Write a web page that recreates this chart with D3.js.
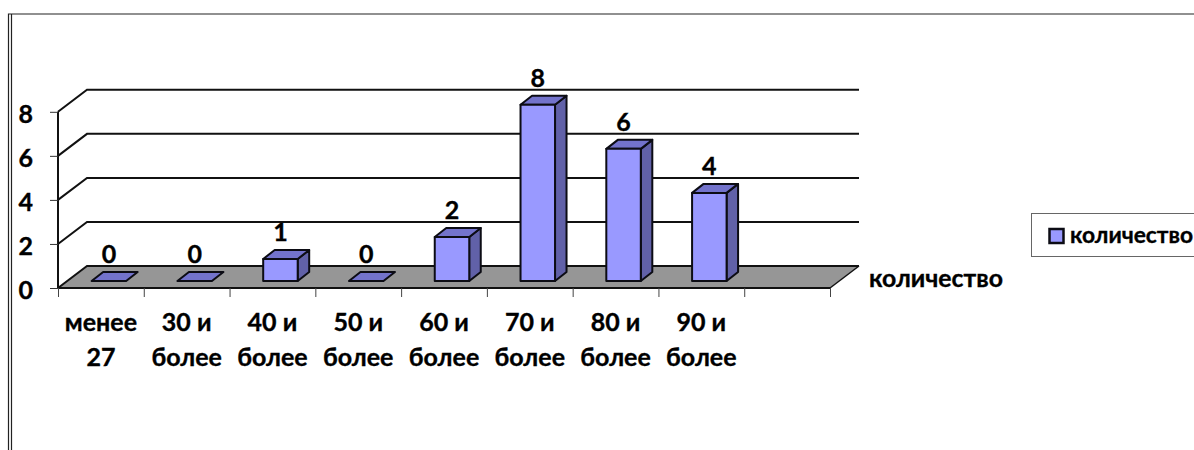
<!DOCTYPE html>
<html><head><meta charset="utf-8">
<script src="https://cdn.jsdelivr.net/npm/d3@7/dist/d3.min.js"></script>
<style>
html,body{margin:0;padding:0;background:#fff}
svg{display:block}
text{font-family:Lato,"Open Sans",sans-serif;font-weight:700;fill:#000;stroke:#000;stroke-width:.35px;font-size:25px}
</style></head><body>
<svg id="c" width="1194" height="450"></svg>
<script>
const categories=[["менее","27"],["30 и","более"],["40 и","более"],["50 и","более"],["60 и","более"],["70 и","более"],["80 и","более"],["90 и","более"],["",""]];
const values=[0,0,1,0,2,8,6,4,null];
const yTicks=[0,2,4,6,8];
const seriesName="количество";

const svg=d3.select("#c");
const x0=58,x1=830,y0=288,y8=111.8;
const wallDx=29,wallDy=-22;
const x=d3.scaleBand().domain(d3.range(categories.length)).range([x0,x1]);
const xTick=d3.scaleLinear().domain([0,categories.length]).range([x0,x1]);
const y=d3.scaleLinear().domain([0,8]).range([y0,y8]);
const line=(pts)=>d3.line()(pts);

// outer frame
svg.append("path").attr("d","M8.5,450V14H1194").attr("fill","none").attr("stroke","#222").attr("stroke-width",1.2);
svg.append("path").attr("d","M11.5,450V14").attr("fill","none").attr("stroke","#222").attr("stroke-width",1.2);

// floor
svg.append("path").attr("d",line([[x0,y0],[x0+wallDx,y0+wallDy],[x1+wallDx,y0+wallDy],[x1,y0]])+"Z").attr("fill","#969696");

// grid: side wall + back wall
yTicks.forEach(t=>{
  const pts=[[x0,y(t)],[x0+wallDx,y(t)+wallDy],[x1+wallDx,y(t)+wallDy]];
  svg.append("path").attr("d",line(pts)).attr("fill","none").attr("stroke","#111").attr("stroke-width",2);
});
svg.append("path").attr("d",line([[x1,y0],[x1+wallDx,y0+wallDy]])).attr("fill","none").attr("stroke","#111").attr("stroke-width",1.5);

// axes
const yAxis=d3.axisLeft(y).tickValues(yTicks).tickSize(8).tickPadding(17).tickFormat(d3.format("d"));
const gy=svg.append("g").attr("transform",`translate(${x0},0)`).call(yAxis);
gy.select(".domain").attr("stroke","#111").attr("stroke-width",2).attr("d",`M0,${y(8)}V${y0}`);
gy.selectAll("line").attr("stroke","#333").attr("stroke-width",1);
gy.selectAll("text").attr("dy",null).attr("y",10.5).style("font-size","25px");

const xAxis=d3.axisBottom(xTick).tickValues(d3.range(categories.length+1)).tickSize(9).tickFormat("");
const gx=svg.append("g").attr("transform",`translate(0,${y0})`).call(xAxis);
gx.select(".domain").attr("stroke","#111").attr("stroke-width",2).attr("d",`M${x0},0H${x1}`);
gx.selectAll("line").attr("stroke","#444").attr("stroke-width",1);

// category labels
const lab=svg.append("g").selectAll("text").data(categories).join("text")
  .attr("text-anchor","middle");
lab.each(function(d,i){
  const t=d3.select(this);
  d.forEach((s,k)=>t.append("tspan").attr("x",x(i)+x.bandwidth()/2).attr("y",331+k*35).text(s));
});

// bars
const barW=34.5,shift=8,baseLift=7,dDx=11.5,dDy=-9;
const frontFill="#9999ff",topFill="#7373cc",sideFill="#6161a8",edge="#0c0c14";
const bars=svg.append("g").selectAll("g").data(values.map((v,i)=>({v,i})).filter(d=>d.v!==null)).join("g");
bars.each(function(d){
  const g=d3.select(this);
  const l=x(d.i)+x.bandwidth()/2+shift-barW/2,r=l+barW;
  const b=y(0)-baseLift,t=y(d.v)-baseLift;
  const st=s=>s.attr("stroke",edge).attr("stroke-width",2).attr("stroke-linejoin","round");
  if(d.v>0){
    st(g.append("path").attr("d",line([[r,b],[r+dDx,b+dDy],[r+dDx,t+dDy],[r,t]])+"Z").attr("fill",sideFill));
  }
  st(g.append("path").attr("d",line([[l,t],[l+dDx,t+dDy],[r+dDx,t+dDy],[r,t]])+"Z").attr("fill",topFill));
  if(d.v>0){
    st(g.append("path").attr("d",line([[l,b],[l,t],[r,t],[r,b]])+"Z").attr("fill",frontFill));
  }
  g.append("text").attr("text-anchor","middle").attr("x",(l+r)/2).attr("y",t-18).style("font-size","25px").text(d.v);
});

// series axis label
svg.append("text").attr("x",869).attr("y",287).style("font-size","24.8px").text(seriesName);

// legend
svg.append("rect").attr("x",1031.5).attr("y",213.5).attr("width",170).attr("height",43).attr("fill","#fff").attr("stroke","#666").attr("stroke-width",1);
svg.append("rect").attr("x",1049.5).attr("y",229).attr("width",14).attr("height",14).attr("fill",frontFill).attr("stroke",edge).attr("stroke-width",2.5);
svg.append("text").attr("x",1070).attr("y",243).style("font-size","22.8px").text(seriesName);
</script>
</body></html>
